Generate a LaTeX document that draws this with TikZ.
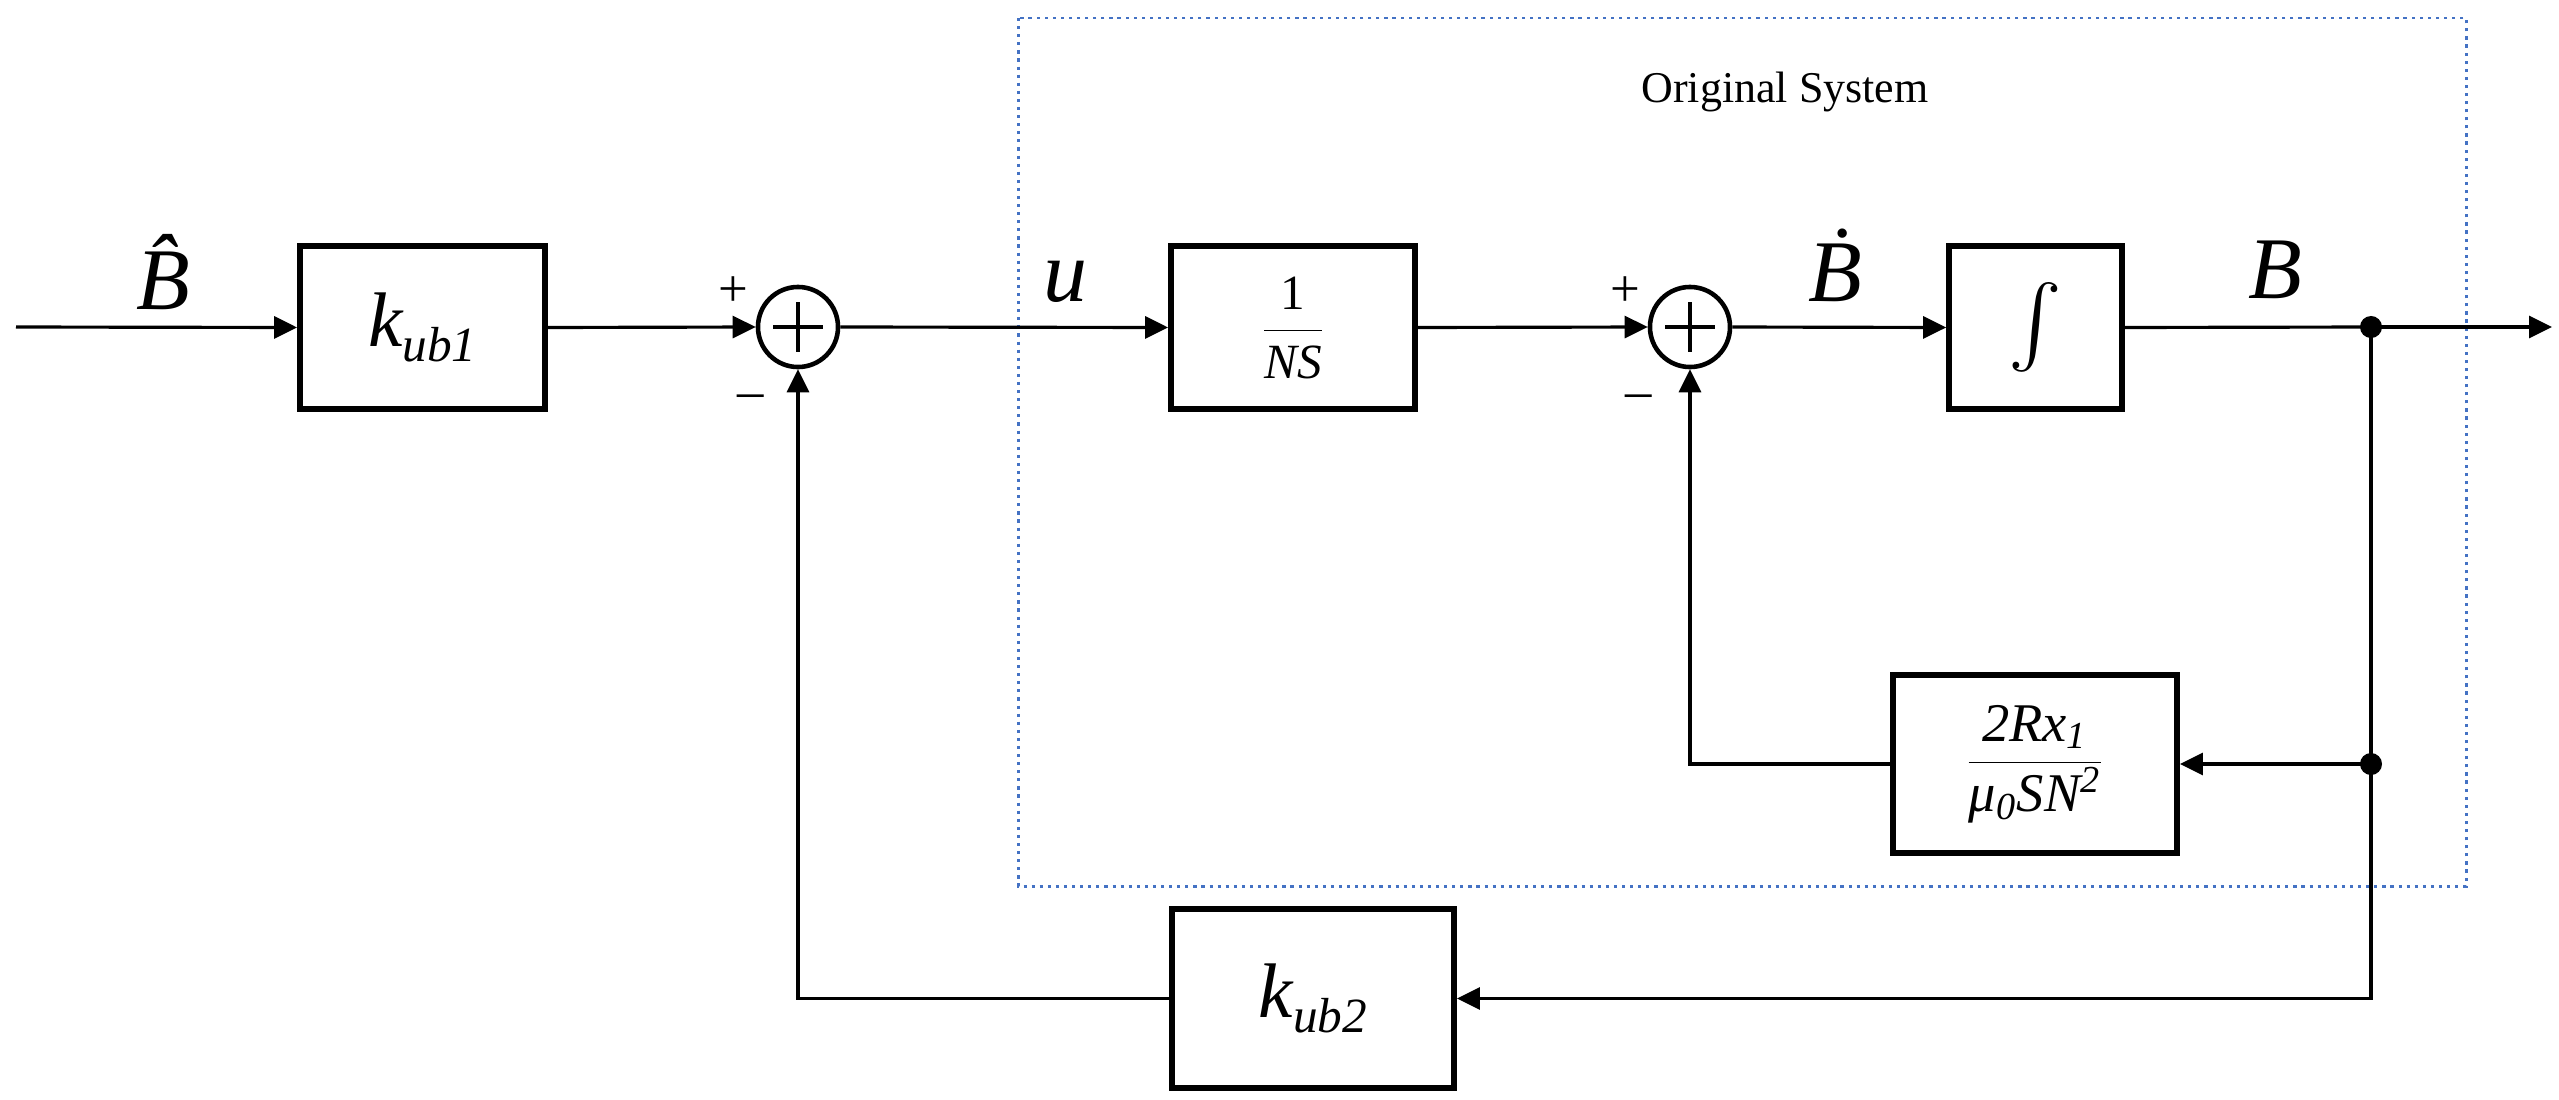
\documentclass[tikz,border=0pt]{standalone}
\usepackage{fontspec}
\usepackage{graphicx}
\setmainfont{Liberation Serif}
\usetikzlibrary{arrows.meta}
\definecolor{sysblue}{RGB}{68,114,196}
\begin{document}
\begin{tikzpicture}[x=0.01cm,y=-0.01cm,
  blk/.style={draw, line width=1.6pt, inner sep=0pt, fill=white},
  sumc/.style={draw, circle, line width=1.3pt, minimum size=0.8cm, inner sep=0pt},
  conn/.style={line width=0.9pt, -{Triangle[length=0.23cm,width=0.22cm]}},
  line/.style={line width=0.9pt},
  jdot/.style={circle, fill=black, minimum size=0.22cm, inner sep=0pt},
  sysbox/.style={draw=sysblue, line width=0.85pt, dash pattern=on 0.9pt off 1.4pt},
  biglbl/.style={font=\fontsize{25}{25}\selectfont\itshape},
  sgn/.style={font=\fontsize{15}{15}\selectfont, inner sep=0pt}
]
\useasboundingbox (0,0) rectangle (2559,1100);

% original system frame
\draw[sysbox] (1018,18) rectangle (2466,886);
\node (title) at (1785,92) {\fontsize{12.5}{15}\selectfont Original System};

% blocks
\node[blk, minimum width=2.45cm, minimum height=1.63cm] (k1) at (422.5,327.5)
  {\fontsize{22}{22}\selectfont\itshape k\raisebox{-4.5pt}{\fontsize{14}{14}\selectfont ub1}};
\node[blk, minimum width=2.44cm, minimum height=1.63cm] (ns) at (1293,327.5)
  {\fontsize{14}{14}\selectfont$\displaystyle\frac{\hbox{1}}{\hbox{\itshape NS}}$};
\node[blk, minimum width=1.73cm, minimum height=1.63cm] (int) at (2035.5,327.5)
  {\normalsize\scalebox{2.3}{$\textstyle\int$}};
\node[blk, minimum width=2.84cm, minimum height=1.78cm] (fb) at (2035,764)
  {\fontsize{15.5}{15.5}\selectfont$\displaystyle\frac{\hbox{\itshape 2Rx\textsubscript{1}}}{\hbox{\itshape μ\textsubscript{0}SN\textsuperscript{2}}}$};
\node[blk, minimum width=2.82cm, minimum height=1.79cm] (k2) at (1313,998.5)
  {\fontsize{22}{22}\selectfont\itshape k\raisebox{-4.5pt}{\fontsize{14}{14}\selectfont ub2}};

% summing junctions
\node[sumc] (s1) at (798,327) {};
\draw[line width=1.2pt] (s1.center) +(-25,0) -- +(25,0) (s1.center) +(0,-25) -- +(0,25);
\node[sumc] (s2) at (1690,327) {};
\draw[line width=1.2pt] (s2.center) +(-25,0) -- +(25,0) (s2.center) +(0,-25) -- +(0,25);

% junction dots
\node[jdot] (j1) at (2371,327) {};
\node[jdot] (j2) at (2371,764) {};
\coordinate (inp) at (16,327);
\coordinate (outp) at (2552,327);

% signal labels
\node[biglbl] (lbh) at (163,272) {\^{B}};
\node[biglbl] (lu) at (1065,282) {u};
\node[biglbl] (lbd) at (1835,265) {\.{B}};
\node[biglbl] (lb) at (2275,270) {B};

% signs
\node[sgn] (p1) at (733,292) {+};
\node[sgn] (m1) at (751,402) {–};
\node[sgn] (p2) at (1625,292) {+};
\node[sgn] (m2) at (1639,402) {–};

% connectors
\draw[conn] (inp) -- (k1.west);
\draw[conn] (k1.east) -- (s1.west);
\draw[conn] (s1.east) -- (ns.west);
\draw[conn] (ns.east) -- (s2.west);
\draw[conn] (s2.east) -- (int.west);
\draw[line] (int.east) -- (j1.center);
\draw[conn] (j1.center) -- (outp);
\draw[line] (j1.center) -- (j2.center);
\draw[conn] (j2.center) -- (fb.east);
\draw[conn] (fb.west) -| (s2.south);
\draw[conn] (j2.center) |- (k2.east);
\draw[conn] (k2.west) -| (s1.south);
\end{tikzpicture}
\end{document}
